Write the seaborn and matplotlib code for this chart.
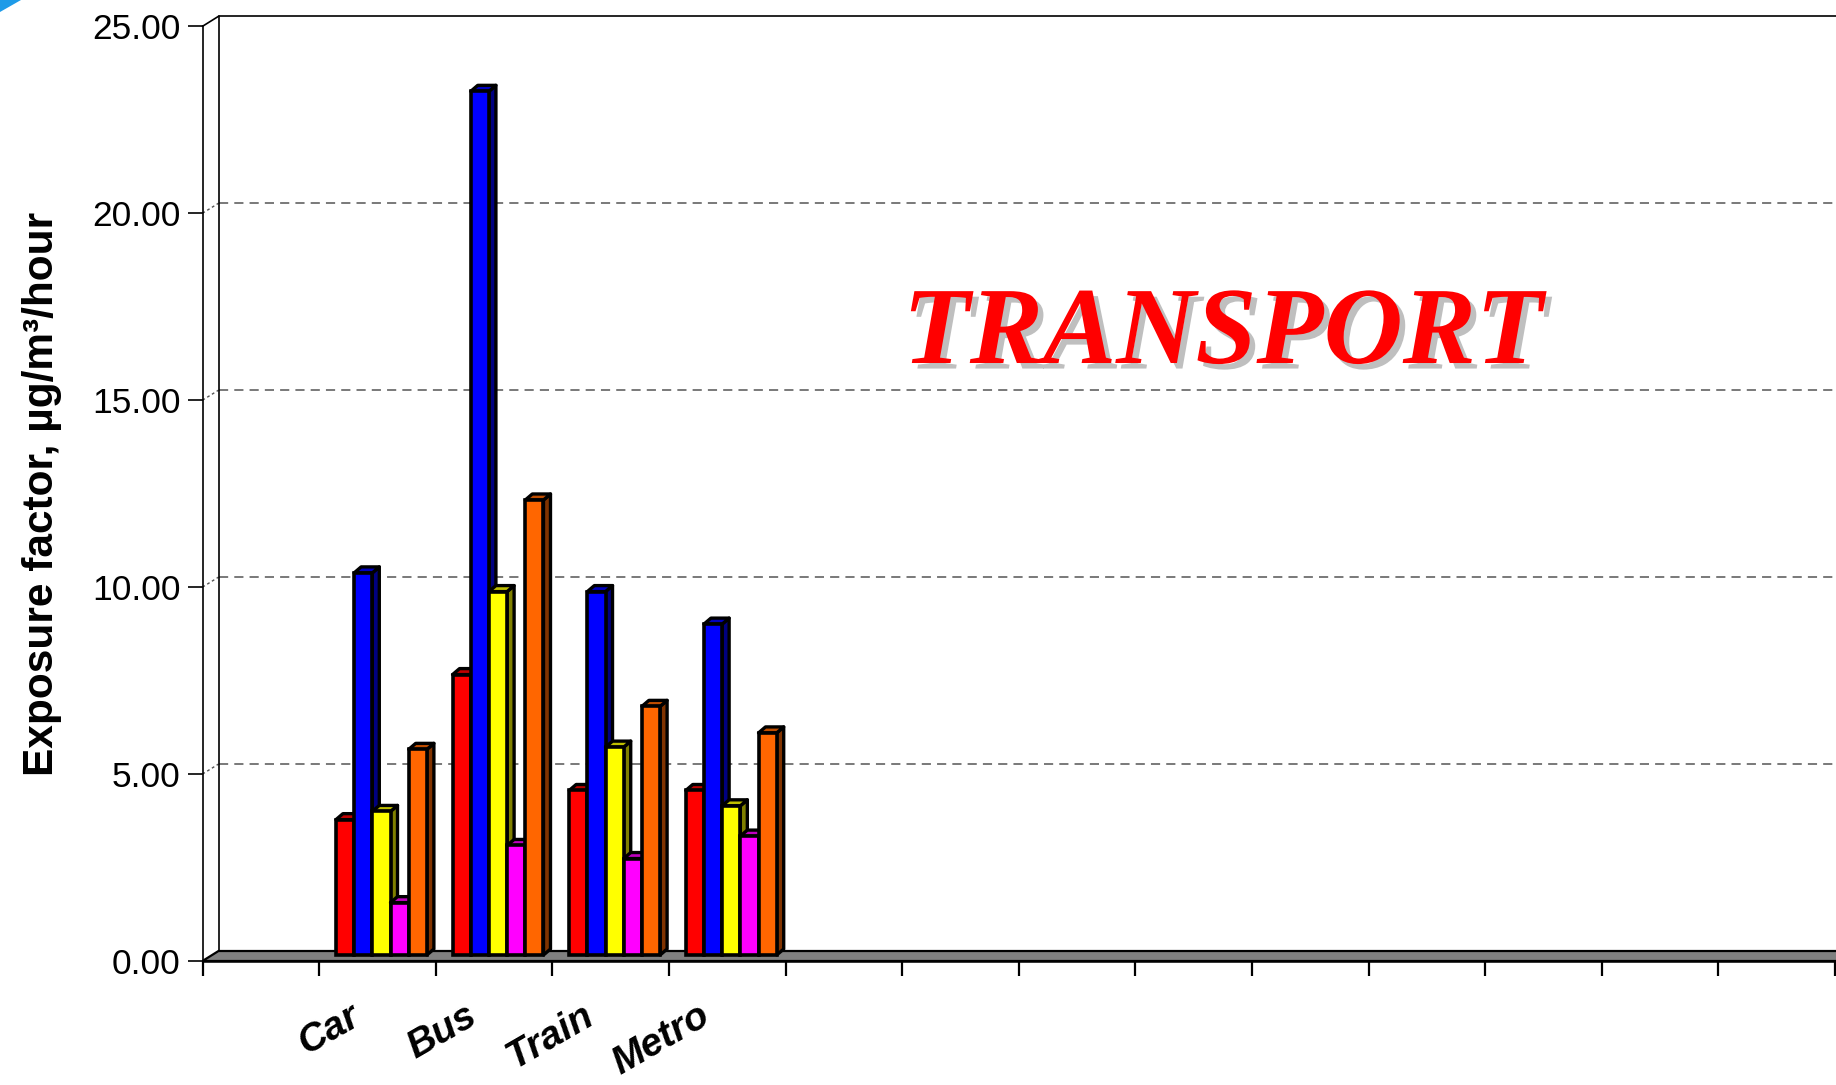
import matplotlib
matplotlib.use("Agg")
import matplotlib.pyplot as plt
import matplotlib.patheffects as pe
from matplotlib.patches import Polygon
import seaborn as sns
import pandas as pd
import numpy as np

# ---------------- data ----------------
categories = ["Car", "Bus", "Train", "Metro"]
series_names = ["Series 1", "Series 2", "Series 3", "Series 4", "Series 5"]
series1_red = [3.62, 7.50, 4.40, 4.40]
series2_blue = [10.22, 23.10, 9.72, 8.85]
series3_yellow = [3.84, 9.72, 5.56, 3.99]
series4_magenta = [1.40, 2.93, 2.58, 3.18]
series5_orange = [5.50, 12.17, 6.65, 5.94]
y_ticks = [0, 5, 10, 15, 20, 25]
y_label = "Exposure factor, µg/m³/hour"
title_text = "TRANSPORT"
n_slots = 14  # category slots on the axis (first slot empty, many empty at right)

front_colors = ["#FF0000", "#0000FF", "#FFFF00", "#FF00FF", "#FF6600"]

# ---------------- figure ----------------
sns.set_theme(style="white")
plt.rcParams["font.family"] = ["Liberation Sans", "DejaVu Sans"]

W, H = 1836, 1085
fig = plt.figure(figsize=(W / 100, H / 100), dpi=100)
ax_l, ax_b = 202.5, 961.0  # pixel position of front origin
ax_w, ax_h = 1632.5, 934.7
ax = fig.add_axes([ax_l / W, 1 - ax_b / H, ax_w / W, ax_h / H])
ax.set_facecolor("none")

order = ["_e0"] + categories + [f"_e{i}" for i in range(5, n_slots)]
df = pd.DataFrame({
    "category": categories * 5,
    "series": sum([[s] * 4 for s in series_names], []),
    "value": series1_red + series2_blue + series3_yellow + series4_magenta + series5_orange,
})

sns.barplot(data=df, x="category", y="value", hue="series", order=order,
            hue_order=series_names, palette=front_colors, width=0.78,
            edgecolor="black", linewidth=2.6, saturation=1, legend=False,
            errorbar=None, ax=ax)

ax.set_xlim(-0.5, n_slots - 0.5)
ax.set_ylim(0, 25)

# pixel -> data conversion
px_x = ax_w / n_slots
px_y = ax_h / 25.0
def dd(px, py):
    return px / px_x, py / px_y

fdx, fdy = dd(16, 10)     # depth of the back wall / floor
bfx, bfy = dd(4, 6)       # bar front-face offset
bdx, bdy = dd(7, 6)       # bar depth

x0, x1 = -0.5, n_slots - 0.5 + 0.3

# floor
floor = Polygon([(x0, 0), (x1, 0), (x1 + fdx, fdy), (x0 + fdx, fdy)], closed=True,
                facecolor="#808080", edgecolor="black", linewidth=1.6,
                clip_on=False, zorder=1.5)
ax.add_patch(floor)

# back wall lines
ax.plot([x0 + fdx, x0 + fdx], [fdy, 25 + fdy], color="black", lw=1.2, clip_on=False, zorder=1.2)
ax.plot([x0 + fdx, x1 + fdx], [25 + fdy, 25 + fdy], color="black", lw=1.2, clip_on=False, zorder=1.2)
ax.plot([x0, x0 + fdx], [25, 25 + fdy], color="black", lw=1.2, clip_on=False, zorder=1.2)
for t in y_ticks[1:-1]:
    ax.plot([x0 + fdx, x1 + fdx], [t + fdy, t + fdy], color="#555555", lw=1.1,
            dashes=(6, 4), clip_on=False, zorder=1.1)
    ax.plot([x0, x0 + fdx], [t, t + fdy], color="#555555", lw=1.0,
            dashes=(2, 2), clip_on=False, zorder=1.1)

# 3D bars: shift front faces and add side / top faces
bars = sorted([p for p in ax.patches if p is not floor], key=lambda p: p.get_x())
for r, p in enumerate(bars):
    h = p.get_height()
    if h <= 0:
        continue
    fc = np.array(p.get_facecolor()[:3])
    bx = p.get_x() + bfx
    by = bfy
    w = p.get_width()
    p.set_x(bx)
    p.set_y(by)
    p.set_zorder(3 + 2 * r + 1)
    p.set_clip_on(False)
    side = Polygon([(bx + w, by), (bx + w + bdx, by + bdy), (bx + w + bdx, by + h + bdy), (bx + w, by + h)],
                   closed=True, facecolor=fc * 0.5, edgecolor="black", linewidth=2.4,
                   joinstyle="round", clip_on=False, zorder=3 + 2 * r)
    top = Polygon([(bx, by + h), (bx + w, by + h), (bx + w + bdx, by + h + bdy), (bx + bdx, by + h + bdy)],
                  closed=True, facecolor=fc * 0.75, edgecolor="black", linewidth=2.4,
                  joinstyle="round", clip_on=False, zorder=3 + 2 * r)
    ax.add_patch(side)
    ax.add_patch(top)

# axes styling
for s in ["top", "right"]:
    ax.spines[s].set_visible(False)
ax.spines["left"].set_color("black")
ax.spines["left"].set_linewidth(1.2)
ax.spines["bottom"].set_color("black")
ax.spines["bottom"].set_linewidth(1.8)
ax.spines["bottom"].set_zorder(2)

ax.set_yticks(y_ticks)
ax.set_yticklabels([f"{t:.2f}" for t in y_ticks], fontsize=25.5, color="black")
ax.tick_params(axis="y", direction="out", length=11, width=1.2, pad=5, color="black", left=True)
ax.set_xticks(np.arange(-0.5, n_slots, 1.0))
ax.set_xticklabels([])
ax.tick_params(axis="x", direction="out", length=11, width=1.6, color="black", bottom=True)
ax.set_xlabel("")
ax.set_ylabel("")
ax.grid(False)

# category labels
for cat in categories:
    i = order.index(cat)
    ax.annotate(cat, xy=(i, 0), xycoords="data", xytext=(-29, -37), textcoords="offset pixels",
                rotation=30, rotation_mode="anchor", ha="right", va="top",
                fontsize=28, fontweight="bold", fontstyle="italic", color="black",
                annotation_clip=False)

# y label
fig.text(42 / W, 1 - 494 / H, y_label, rotation=90, ha="center", va="center",
         fontsize=30.5, fontweight="bold", color="black")

# title-like decoration
fig.text(1223 / W, 1 - 336 / H, title_text, ha="center", va="center",
         fontsize=79, fontweight="bold", fontstyle="italic", color="#FF0000",
         family=["Liberation Serif", "DejaVu Serif"],
         path_effects=[pe.withSimplePatchShadow(offset=(4, -4), shadow_rgbFace="#BFBFBF", alpha=1.0)])

# small blue corner mark
fig.patches.append(Polygon([(0, 1.0), (21 / W, 1.0), (0, 1 - 12 / H)],
                           closed=True, transform=fig.transFigure, facecolor="#1E9BE8",
                           edgecolor="none"))

fig.savefig("out.png", dpi=100, facecolor="white")
